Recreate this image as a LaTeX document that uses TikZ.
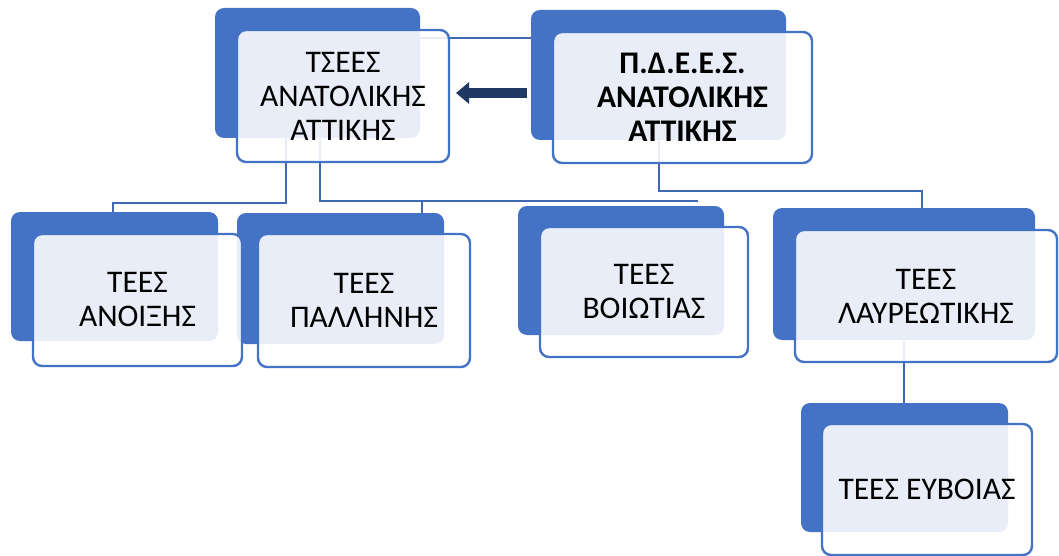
\documentclass[tikz,border=0pt]{standalone}
\usepackage{fontspec}
\setmainfont{Carlito}
\usetikzlibrary{arrows.meta,calc}
\definecolor{acc}{HTML}{4472C4}
\definecolor{lnk}{HTML}{4068B4}
\definecolor{navy}{HTML}{203864}
\begin{document}
\begin{tikzpicture}[x=1pt,y=-1pt,
  backbox/.style={fill=acc, draw=none, rounded corners=9pt, inner sep=0pt},
  frontbox/.style={fill=white, fill opacity=0.88, text opacity=1, draw=acc, line width=2.4pt,
    rounded corners=9pt, inner sep=0pt, align=center, font=\fontsize{31.5}{34}\selectfont},
  link/.style={draw=lnk, line width=2.6pt}]
\fill[white] (0,0) rectangle (1059,556);
\useasboundingbox (0,0) rectangle (1059,556);

% back boxes
\node[backbox, minimum width=205pt, minimum height=130pt] (tsB) at (317.5,73) {};
\node[backbox, minimum width=255pt, minimum height=130pt] (pdB) at (658.5,75) {};
\node[backbox, minimum width=207pt, minimum height=129pt] (anB) at (114.5,276.5) {};
\node[backbox, minimum width=207pt, minimum height=131pt] (paB) at (340.5,278.5) {};
\node[backbox, minimum width=206pt, minimum height=129pt] (voB) at (621,270.5) {};
\node[backbox, minimum width=262pt, minimum height=132pt] (laB) at (904,274) {};
\node[backbox, minimum width=207pt, minimum height=129pt] (evB) at (904.5,467.5) {};

% connectors
\coordinate (c1) at (286,203);
\coordinate (c2) at (113,203);
\coordinate (c3) at (320,201);
\coordinate (c4) at (698,201);
\coordinate (c5) at (422,201);
\coordinate (c6) at (659,191);
\coordinate (c7) at (922,191);
\draw[link] (pdB.west |- 0,38) -- (tsB.east |- 0,38);
\draw[link] (tsB.south -| c1) -- (c1) -- (c2) -- (anB.north -| c2);
\draw[link] (tsB.south -| c3) -- (c3) -- (c4);
\draw[link] (c5) -- (paB.north -| c5);
\draw[link] (pdB.south -| c6) -- (c6) -- (c7) -- (laB.north -| c7);
\draw[link] (laB.south -| 904,0) -- (evB.north -| 904,0);

% front boxes
\node[frontbox, minimum width=212pt, minimum height=132pt] (tsF) at (343,96) {ΤΣΕΕΣ\\ΑΝΑΤΟΛΙΚΗΣ\\ΑΤΤΙΚΗΣ};
\node[frontbox, minimum width=259pt, minimum height=131pt, font=\fontsize{31.5}{34}\selectfont\bfseries] (pdF) at (682.5,97.5) {Π.Δ.Ε.Ε.Σ.\\ΑΝΑΤΟΛΙΚΗΣ\\ΑΤΤΙΚΗΣ};
\node[frontbox, minimum width=209pt, minimum height=132pt] (anF) at (137.5,300) {ΤΕΕΣ\\ΑΝΟΙΞΗΣ};
\node[frontbox, minimum width=212pt, minimum height=133pt] (paF) at (364,300.5) {ΤΕΕΣ\\ΠΑΛΛΗΝΗΣ};
\node[frontbox, minimum width=208pt, minimum height=130pt] (voF) at (644,292) {ΤΕΕΣ\\ΒΟΙΩΤΙΑΣ};
\node[frontbox, minimum width=262pt, minimum height=132pt] (laF) at (926,296) {ΤΕΕΣ\\ΛΑΥΡΕΩΤΙΚΗΣ};
\node[frontbox, minimum width=210pt, minimum height=131pt] (evF) at (927,489.5) {ΤΕΕΣ ΕΥΒΟΙΑΣ};

% arrow
\coordinate (arS) at (527,93);
\coordinate (arE) at (456,93);
\draw[navy, line width=10pt, -{Triangle[width=21pt,length=13pt]}] (arS) -- (arE);
\end{tikzpicture}
\end{document}
